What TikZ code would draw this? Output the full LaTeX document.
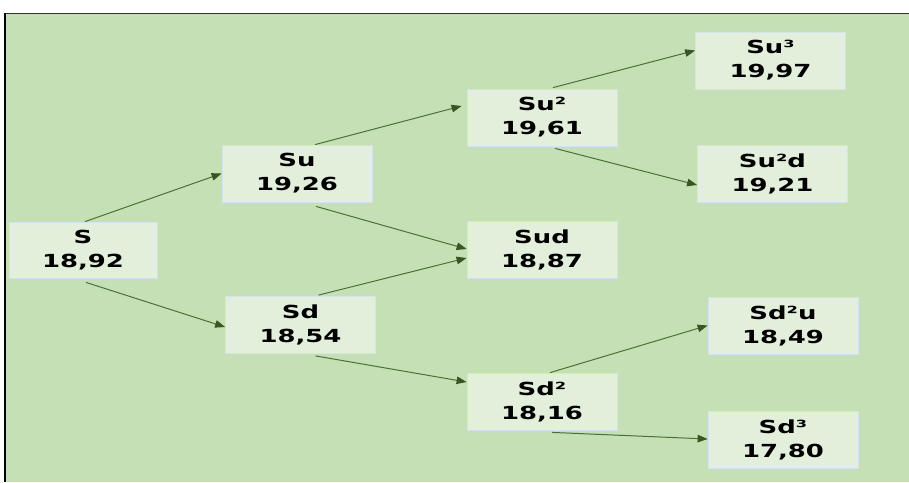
\documentclass[tikz,border=0pt]{standalone}
\usepackage{fontspec}
\setmainfont{DejaVu Sans}
\newfontfamily\boxfont[FakeStretch=1.44]{DejaVu Sans}
\usetikzlibrary{arrows.meta,calc}
\definecolor{panelgreen}{HTML}{C5E0B4}
\definecolor{boxgreen}{HTML}{E2EFDA}
\definecolor{boxedge}{HTML}{D3E4F0}
\definecolor{arrowgreen}{HTML}{4A7330}
\definecolor{tipgreen}{HTML}{375623}
\begin{document}
\begin{tikzpicture}[x=1pt,y=-1pt,
  state/.style={rectangle, fill=boxgreen, draw=boxedge, line width=0.8pt,
    minimum width=150pt, minimum height=57pt, inner sep=0pt, align=center,
    font=\boxfont\bfseries\fontsize{18}{24}\selectfont},
  link/.style={draw=arrowgreen, line width=1pt,
    -{Triangle[length=10pt,width=7.5pt,color=tipgreen]}}]
\useasboundingbox (0,0) rectangle (909,482);
\fill[white] (0,0) rectangle (909,482);
% green panel with its frame
\fill[panelgreen] (5,13) rectangle (909,482);
\draw[black!80, line width=1pt] (5,13) -- (909,13);
\draw[black, line width=2.5pt] (5,13) -- (5,482);

% price tree
\node[state, minimum width=148pt, minimum height=56pt] (S) at (83,250) {S\\18,92};
\node[state] (Su)   at (297,173.5) {Su\\19,26};
\node[state] (Sd)   at (300.5,325) {Sd\\18,54};
\node[state] (Suu)  at (542,117.5) {Su²\\19,61};
\node[state] (Sud)  at (542,250)   {Sud\\18,87};
\node[state] (Sdd)  at (542,401.5) {Sd²\\18,16};
\node[state] (Suuu) at (770.5,60.5) {Su³\\19,97};
\node[state] (Suud) at (772.5,174)  {Su²d\\19,21};
\node[state] (Sddu) at (783,325.5)  {Sd²u\\18,49};
\node[state] (Sddd) at (783,440)    {Sd³\\17,80};

% branches
\draw[link] ($(S.north)+(2,0)$) -- (Su.west);
\draw[link] ($(S.south)+(3,4)$) -- ($(Sd.west)+(0,2)$);
\draw[link] ($(Su.north)+(18,0)$) -- ($(Suu.west)+(-5,-11.5)$);
\draw[link] ($(Su.south)+(19,4)$) -- ($(Sud.west)+(0,-1)$);
\draw[link] ($(Sd.north)+(18,-1)$) -- ($(Sud.west)+(0,8)$);
\draw[link] ($(Sd.south)+(15,2)$) -- ($(Sdd.west)+(0,-19.5)$);
\draw[link] ($(Suu.north)+(11,-1)$) -- ($(Suuu.west)+(0,-10)$);
\draw[link] ($(Suu.south)+(13,2)$) -- ($(Suud.west)+(0,11)$);
\draw[link] ($(Sdd.north)+(8,0)$) -- (Sddu.west);
\draw[link] ($(Sdd.south)+(10,2)$) -- ($(Sddd.west)+(0,-1)$);
\end{tikzpicture}
\end{document}
